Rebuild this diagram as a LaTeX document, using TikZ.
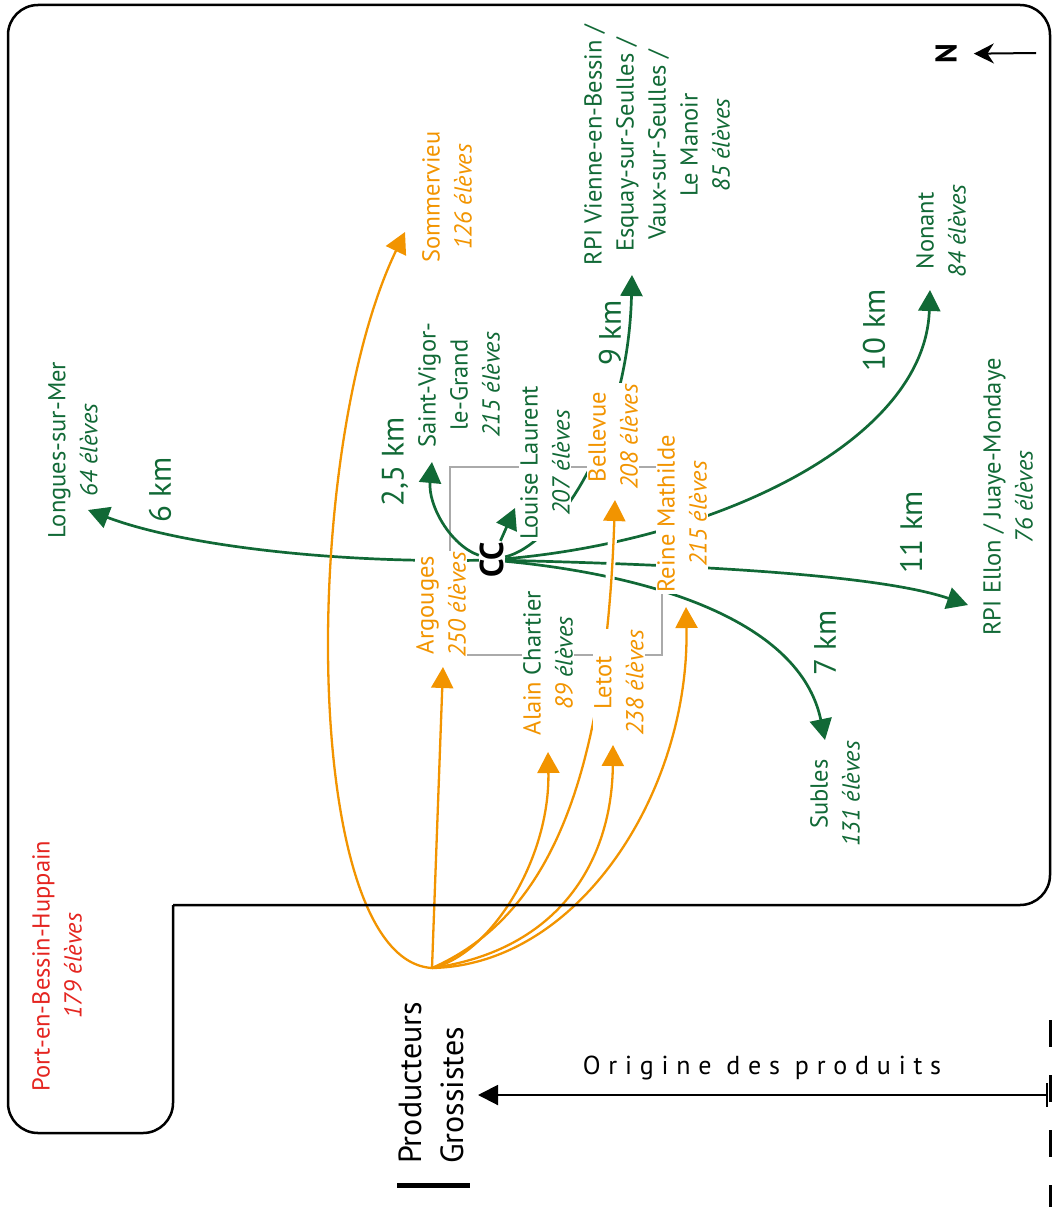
\documentclass[tikz,border=0pt]{standalone}
\usepackage{fontspec}
\setmainfont{PT Sans}
\newfontfamily\espace[LetterSpace=30]{PT Sans}
\usetikzlibrary{arrows.meta}
\definecolor{vert}{RGB}{17,105,54}
\definecolor{cantine}{RGB}{242,148,0}
\definecolor{rouge}{RGB}{228,37,32}
\definecolor{gris}{RGB}{170,170,170}

\begin{document}
\begin{tikzpicture}
	[
	x=1pt,y=-1pt,
	lieu/.style={rotate=90,align=center,inner sep=1pt,font=\fontsize{24.5}{32}\selectfont},
	masque/.style={fill=white},
	dist/.style={rotate=90,text=vert,font=\fontsize{31}{36}\selectfont},
	trajet/.style={draw=vert,line width=2.7pt,-{Triangle[length=21pt,width=22pt]}},
	appro/.style={draw=cantine,line width=2.3pt,-{Triangle[length=21pt,width=22pt]}},
	cadre/.style={line width=2.5pt,rounded corners=30pt},
	]
	\useasboundingbox (0,0) rectangle (1053,1207);

	\draw[gris,line width=2pt] (450,467) rectangle (662,655);

	\node[rotate=90,font=\bfseries\fontsize{33}{36}\selectfont,inner sep=1pt] (cc) at (492,560) {CC};
	\coordinate (tLongues) at (88,510);
	\coordinate (tVigor) at (432,462);
	\coordinate (tLouise) at (515,508);
	\coordinate (tVienne) at (632,275);
	\coordinate (tNonant) at (930,290);
	\coordinate (tEllon) at (968,605);
	\coordinate (tSubles) at (825,740);
	\draw[trajet] (cc) .. controls (330,563) and (180,545) .. (tLongues);
	\draw[trajet] (cc) .. controls (450,545) and (428,505) .. (tVigor);
	\draw[trajet] (cc) -- (tLouise);
	\draw[trajet] (cc) .. controls (555,545) and (628,440) .. (tVienne);
	\draw[trajet] (cc) .. controls (720,540) and (925,440) .. (tNonant);
	\draw[trajet] (cc) .. controls (700,565) and (880,575) .. (tEllon);
	\draw[trajet] (cc) .. controls (650,575) and (800,620) .. (tSubles);

	\coordinate (p) at (432,968);
	\coordinate (tSommervieu) at (405,232);
	\coordinate (tArgouges) at (443,667);
	\coordinate (tAlain) at (548,752);
	\coordinate (tBellevue) at (615,500);
	\coordinate (tLetot) at (613,745);
	\coordinate (tReine) at (686,607);
	\draw[appro] (p) .. controls (300,960) and (300,450) .. (tSommervieu);
	\draw[appro] (p) -- (tArgouges);
	\draw[appro] (p) .. controls (490,955) and (550,860) .. (tAlain);
	\draw[white,line width=9pt] (609,595) -- (613,530);
	\draw[appro] (p) .. controls (540,920) and (605,800) .. (tBellevue);
	\draw[appro] (p) .. controls (560,950) and (612,860) .. (tLetot);
	\draw[appro] (p) .. controls (580,965) and (690,790) .. (tReine);

	\node[lieu,text=vert] (longues) at (73,450) {Longues-sur-Mer\\\textit{64 élèves}};
	\node[lieu,text=vert] (vigor) at (459,385) {Saint-Vigor-\\le-Grand\\\textit{215 élèves}};
	\node[lieu,text=cantine] (sommervieu) at (447,197) {Sommervieu\\\textit{126 élèves}};
	\node[lieu,masque,text=vert] (louise) at (545,463) {Louise Laurent\\\textit{207 élèves}};
	\node[lieu,masque,text=cantine] (bellevue) at (613,437) {Bellevue\\\textit{208 élèves}};
	\node[lieu,masque,text=cantine] (reine) at (682,514) {Reine Mathilde\\\textit{215 élèves}};
	\node[lieu,masque,text=cantine] (argouges) at (441,605) {Argouges\\\textit{250 élèves}};
	\node[lieu,masque,text=vert] (alain) at (548,663) {{\color{cantine}Alain} Chartier\\\textit{{\color{cantine}89} élèves}};
	\node[lieu,masque,text=cantine] (letot) at (619,683) {Letot\\\textit{238 élèves}};
	\node[lieu,text=vert] (subles) at (835,794) {Subles\\\textit{131 élèves}};
	\node[lieu,text=vert] (ellon) at (1008,497) {RPI Ellon / Juaye-Mondaye\\\textit{76 élèves}};
	\node[lieu,text=vert] (nonant) at (941,231) {Nonant\\\textit{84 élèves}};
	\node[lieu,text=vert] (vienne) at (657,145) {RPI Vienne-en-Bessin /\\Esquay-sur-Seulles /\\Vaux-sur-Seulles /\\Le Manoir\\\textit{85 élèves}};
	\node[lieu,text=rouge] (port) at (57,966) {Port-en-Bessin-Huppain\\\textit{179 élèves}};

	\node[dist] (d6) at (160,490) {6 km};
	\node[dist] (d25) at (395,462) {2,5 km};
	\node[dist] (d9) at (610,333) {9 km};
	\node[dist] (d10) at (874,330) {10 km};
	\node[dist] (d11) at (911,532) {11 km};
	\node[dist] (d7) at (825,643) {7 km};

	\draw[cadre] (173,905) -- (173,1133) -- (8,1133) -- (8,5) -- (1050,5) -- (1050,905) -- (173,905);

	\node[rotate=90,font=\bfseries\fontsize{30}{34}\selectfont,inner sep=1pt] (nord) at (946,54) {N};
	\coordinate (fleche) at (1036,53);
	\draw[line width=2pt,-{Stealth[length=20pt,width=20pt]},shorten >=16pt] (fleche) -- (nord);

	\node[lieu,align=left,anchor=west,font=\fontsize{32}{42}\selectfont] (prod) at (431,1165) {Producteurs\\Grossistes};
	\draw[line width=5pt] (397,1185) -- (470,1185);
	\draw[line width=3pt,dash pattern=on 27pt off 28pt] (1050,1020) -- (1050,1207);
	\coordinate (source) at (1048,1095);
	\coordinate (dest) at (478,1095);
	\draw[line width=2pt,{Bar[width=24pt]}-{Triangle[length=20pt,width=20pt]}] (source) -- (dest);
	\node[font=\espace\fontsize{26}{28}\selectfont] (origine) at (762,1068) {Origine des produits};
\end{tikzpicture}
\end{document}
